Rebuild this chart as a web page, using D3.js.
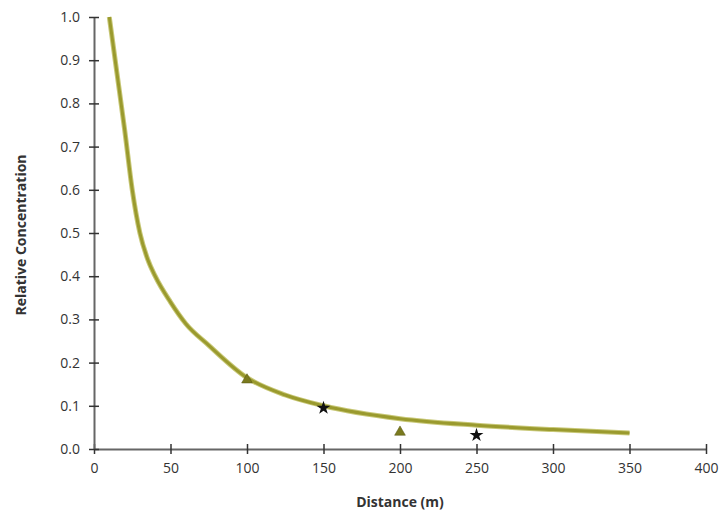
<!DOCTYPE html>
<html>
<head>
<meta charset="utf-8">
<script src="https://cdn.jsdelivr.net/npm/d3@7"></script>
<style>
  body { margin: 0; background: #fff; }
  svg text { font-family: "Open Sans", "DejaVu Sans", sans-serif; }
</style>
</head>
<body>
<div id="chart"></div>
<script>
// modelled curve
const curveX = [10, 15, 20, 25, 30, 35, 40, 50, 60, 75, 100, 125, 150, 200, 250, 300, 350];
const curveY = [1.0, 0.87, 0.74, 0.6, 0.5, 0.44, 0.4, 0.34, 0.29, 0.24, 0.165, 0.125, 0.1, 0.07, 0.055, 0.045, 0.037];

// measured points
const triX = [100, 200];
const triY = [0.16, 0.039];
const dotX = [150, 250];
const dotY = [0.095, 0.032];

const xTicks = [0, 50, 100, 150, 200, 250, 300, 350, 400];
const yTicks = [0, 0.1, 0.2, 0.3, 0.4, 0.5, 0.6, 0.7, 0.8, 0.9, 1.0];

const width = 721;
const height = 514;
const plotLeft = 94, plotRight = 706, plotTop = 17, plotBottom = 449;

const x = d3.scaleLinear().domain([0, 400]).range([plotLeft, plotRight]);
const y = d3.scaleLinear().domain([0, 1]).range([plotBottom, plotTop]);

const svg = d3.select('#chart')
              .append('svg')
                .attr('width', width)
                .attr('height', height);

// axes (ticks cross the axis line)
const xAxis = svg.append('g')
                 .attr('transform', `translate(0, ${plotBottom})`)
                 .call(d3.axisBottom(x).tickValues(xTicks).tickFormat(d3.format('d')).tickSizeInner(5).tickSizeOuter(0).tickPadding(9));
xAxis.selectAll('.tick line').attr('y1', -5);

const yAxis = svg.append('g')
                 .attr('transform', `translate(${plotLeft}, 0)`)
                 .call(d3.axisLeft(y).tickValues(yTicks).tickFormat(d3.format('.1f')).tickSizeInner(5).tickSizeOuter(0).tickPadding(9));
yAxis.selectAll('.tick line').attr('x1', 5);

svg.selectAll('.domain').attr('stroke', '#666').attr('stroke-width', 2);
svg.selectAll('.tick line').attr('stroke', '#333').attr('stroke-width', 1.5);
svg.selectAll('.tick text').attr('fill', '#333').attr('font-size', 14);

// axis titles
svg.append('text')
   .attr('x', 400)
   .attr('y', 507)
   .attr('text-anchor', 'middle')
   .attr('font-size', 14)
   .attr('font-weight', 'bold')
   .attr('fill', '#333')
   .text('Distance (m)');

svg.append('text')
   .attr('transform', 'translate(26, 235) rotate(-90)')
   .attr('text-anchor', 'middle')
   .attr('font-size', 14)
   .attr('font-weight', 'bold')
   .attr('fill', '#333')
   .text('Relative Concentration');

// the curve
const line = d3.line()
               .x(d => x(d[0]))
               .y(d => y(d[1]))
               .curve(d3.curveMonotoneX);

svg.append('path')
   .datum(d3.zip(curveX, curveY))
   .attr('fill', 'none')
   .attr('stroke', '#c8c878')
   .attr('stroke-width', 5)
   .attr('d', line);

svg.append('path')
   .datum(d3.zip(curveX, curveY))
   .attr('fill', 'none')
   .attr('stroke', '#9a9a2e')
   .attr('stroke-width', 3)
   .attr('d', line);

// markers
svg.selectAll('.tri')
   .data(d3.zip(triX, triY))
   .enter()
     .append('path')
       .attr('class', 'tri')
       .attr('transform', d => `translate(${x(d[0])}, ${y(d[1])})`)
       .attr('d', d3.symbol(d3.symbolTriangle, 50))
       .attr('fill', '#7a7a1e')
       .attr('stroke', '#555511')
       .attr('stroke-width', 0.5);

svg.selectAll('.dot')
   .data(d3.zip(dotX, dotY))
   .enter()
     .append('path')
       .attr('class', 'dot')
       .attr('transform', d => `translate(${x(d[0])}, ${y(d[1])})`)
       .attr('d', d3.symbol(d3.symbolStar, 60))
       .attr('fill', '#111');
</script>
</body>
</html>
